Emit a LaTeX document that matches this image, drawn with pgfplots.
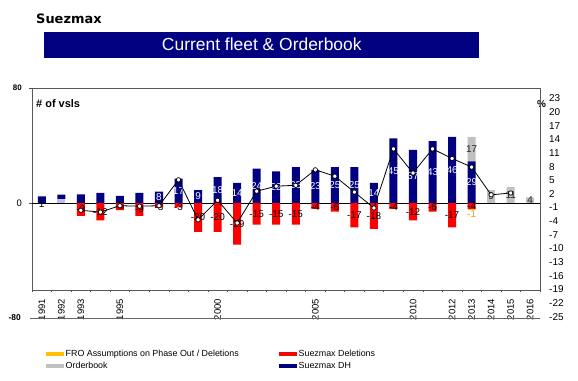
\documentclass[border=0pt]{standalone}
\usepackage{fontspec}
\setmainfont{Liberation Sans}
\newfontfamily\titlefont{DejaVu Sans}
\usepackage{pgfplots}
\usepackage{pgfplotstable}
\pgfplotsset{compat=1.18}
\definecolor{navy}{RGB}{0,0,128}
\definecolor{delred}{RGB}{255,0,0}
\definecolor{obgray}{RGB}{192,192,192}
\definecolor{froyel}{RGB}{255,192,0}
\definecolor{frotext}{RGB}{235,165,0}
\definecolor{lav}{RGB}{190,190,240}

\pgfplotstableread{
x lav dh ob del fro
0 0 4.6 0 0 0
1 2.8 3 0 0 0
2 0 6 0 -9 0
3 0 7 0 -12 0
4 0 5 0 -5 0
5 0 7 0 -9 0
6 0 8 0 -3 0
7 0 17 0 -3 0
8 0 9 0 -20 0
9 0 18 0 -20 0
10 0 14 0 -29 0
11 0 24 0 -15 0
12 0 22 0 -15 0
13 0 25 0 -15 0
14 0 23 0 -4 0
15 0 25 0 -6 0
16 0 25 0 -17 0
17 0 14 0 -18 0
18 0 45 0 -4 0
19 0 37 0 -12 0
20 0 43 0 -6 0
21 0 46 0 -17 0
22 0 29 17 -4 -1
23 0 0 9 0 0
24 0 0 11 0 0
25 0 0 4 0 0
}\bars

\pgfplotstableread{
x p
2 -1.6
3 -2.0
4 -0.6
5 -0.7
6 -0.6
7 5.1
8 -3.7
9 0.6
10 -4.4
11 2.6
12 3.7
13 3.9
14 7.3
15 5.9
16 2.4
17 -1.1
18 11.9
19 6.6
20 11.9
21 9.8
22 7.9
23 1.8
24 2.2
}\linedata

\pgfplotstableread{
x y lab
6 4 8
7 8.5 17
8 4.5 9
9 9 18
10 7 14
11 12 24
12 11 22
13 12.5 25
14 11.5 23
15 12.5 25
16 12.5 25
17 7 14
18 22.5 45
19 18.5 37
20 21.5 43
21 23 46
22 14.5 29
}\dhlab

\pgfplotstableread{
x y lab
22 37.5 17
23 4.5 9
24 5.5 11
25 2 4
}\oblab

\pgfplotstableread{
x y lab
0 -0.5 1
2 -4.5 -9
3 -6 -12
4 -2.5 -5
5 -4.5 -9
6 -2.5 -3
7 -2.5 -3
8 -10 -20
9 -10 -20
10 -14.5 -29
11 -7.5 -15
12 -7.5 -15
13 -7.5 -15
14 -2.5 -4
15 -3 -6
16 -8.5 -17
17 -9 -18
18 -2.5 -4
19 -6 -12
20 -3 -6
21 -8.5 -17
22 -2 -4
}\dellab

\pgfplotstableread{
x y lab
22 -8 -1
}\frolab

\pgfplotsset{base/.style={scale only axis, width=508bp, xmin=-0.5, xmax=25.5,
  enlargelimits=false, anchor=south west}}

\begin{document}
\begin{tikzpicture}
\useasboundingbox (0bp,0bp) rectangle (578bp,381bp);
\fill[white] (0bp,0bp) rectangle (578bp,381bp);
\node[anchor=base west, inner sep=0pt, font=\titlefont\bfseries\fontsize{13}{15}\selectfont] at (36bp,357.7bp) {Suezmax};
\fill[navy] (44.3bp,322.7bp) rectangle (479.3bp,349.3bp);
\node[anchor=base, inner sep=0pt, text=white, font=\fontsize{17.5}{20}\selectfont] at (261.8bp,330.3bp) {Current fleet \& Orderbook};
\node[anchor=base west, inner sep=0pt, font=\bfseries\fontsize{11}{12}\selectfont] at (36bp,273bp) {\# of vsls};
\node[anchor=base west, inner sep=0pt, font=\bfseries\fontsize{10}{12}\selectfont] at (537bp,273bp) {\%};

% positive bars, frame and x axis
\begin{axis}[base, at={(32bp,91bp)}, height=202bp, ymin=-60.5, ymax=80,
  ybar stacked, bar width=0.41,
  axis line style={black!65, line width=0.6bp},
  xtick={0,1,2,4,9,14,19,21,22,23,24,25},
  xticklabels={1991,1992,1993,1995,2000,2005,2010,2012,2013,2014,2015,2016},
  minor xtick={-0.5,0.5,...,25.5},
  xtick pos=bottom, ytick pos=left, tick align=outside,
  major x tick style={draw=none},
  minor x tick style={black!70, line width=0.5bp},
  minor tick length=2.5bp, major tick length=3bp,
  ytick={0,80},
  yticklabels={{\fontsize{9.5}{10}\selectfont 0}, {\bfseries\fontsize{8}{9}\selectfont 80\hspace{6bp}}},
  ytick style={black!70, line width=0.5bp},
  yticklabel style={anchor=east, inner sep=0pt, xshift=-7bp},
  xticklabel style={rotate=90, anchor=east, inner sep=0pt, font=\fontsize{9.5}{10}\selectfont},
  xticklabel shift=6bp,
  clip=false]
\addplot[fill=lav, draw=none] table[x=x,y=lav]{\bars};
\addplot[fill=navy, draw=none] table[x=x,y=dh]{\bars};
\addplot[fill=obgray, draw=none] table[x=x,y=ob]{\bars};
\draw[black!60, line width=0.7bp] (axis cs:-0.6,-80) -- (axis cs:25.5,-80);
\node[anchor=east, inner sep=0pt, xshift=-11bp, font=\bfseries\fontsize{8.5}{9}\selectfont] at (axis cs:-0.5,-80) {-80};
\end{axis}

% negative bars
\begin{axis}[base, at={(32bp,91bp)}, height=202bp, ymin=-60.5, ymax=80,
  hide axis, ybar stacked, bar width=0.41]
\addplot[fill=delred, draw=none] table[x=x,y=del]{\bars};
\addplot[fill=froyel, draw=none] table[x=x,y=fro]{\bars};
\draw[black, line width=0.6bp] (axis cs:-0.5,0) -- (axis cs:25.5,0);
\end{axis}

% labels
\begin{axis}[base, at={(32bp,91bp)}, height=202bp, ymin=-60.5, ymax=80,
  hide axis, clip=false,
  nodes near coords, point meta=explicit symbolic,
  every node near coord/.append style={anchor=center, inner sep=0pt, font=\fontsize{10}{11}\selectfont}]
\addplot[draw=none, mark=none, nodes near coords style={text=white, anchor=center}] table[x=x,y=y,meta=lab]{\dhlab};
\addplot[draw=none, mark=none, nodes near coords style={text=black!85, anchor=center}] table[x=x,y=y,meta=lab]{\oblab};
\addplot[draw=none, mark=none, nodes near coords style={text=black, anchor=center}] table[x=x,y=y,meta=lab]{\dellab};
\addplot[draw=none, mark=none, nodes near coords style={text=frotext, anchor=center}] table[x=x,y=y,meta=lab]{\frolab};
\end{axis}

% percentage line, right axis, legend
\begin{axis}[base, at={(32bp,63bp)}, height=230bp, ymin=-25.3, ymax=25.3,
  hide x axis, axis y line*=right, y axis line style={draw=none},
  ytick={-25,-22,-19,-16,-13,-10,-7,-4,-1,2,5,8,11,14,17,20,23},
  yticklabels={-25,-22,-19,-16,-13,-10,-7,-4,-1,2,5,8,11,14,17,20,23},
  ytick style={draw=none},
  yticklabel style={anchor=west, inner sep=0pt, xshift=9bp, font=\fontsize{10}{11}\selectfont},
  clip=false,
  legend style={at={(0.0276,-0.13)}, anchor=north west, draw=none, fill=none,
    legend columns=2, font=\fontsize{8.9}{10}\selectfont, inner sep=0pt,
    nodes={inner sep=1.5bp, text height=7bp, text depth=2bp},
    /tikz/every even column/.append style={column sep=39bp}, row sep=0pt},
  legend cell align=left,
  legend image code/.code={\fill[#1] (0bp,-2bp) rectangle (18bp,2bp);}]
\addplot[black, line width=0.8bp, mark=*, mark size=2.2bp,
  mark options={fill=white, draw=black, line width=0.7bp}, forget plot]
  table[x=x,y=p]{\linedata};
\addlegendimage{fill=froyel, draw=none}
\addlegendentry{FRO Assumptions on Phase Out / Deletions}
\addlegendimage{fill=delred, draw=none}
\addlegendentry{Suezmax Deletions}
\addlegendimage{fill=obgray, draw=none}
\addlegendentry{Orderbook}
\addlegendimage{fill=navy, draw=none}
\addlegendentry{Suezmax DH}
\end{axis}
\end{tikzpicture}
\end{document}
